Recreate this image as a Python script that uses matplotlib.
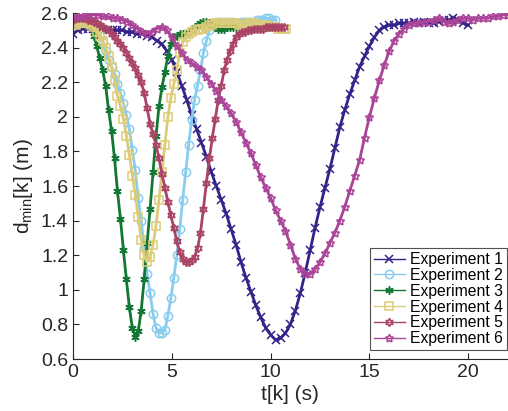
import numpy as np
import matplotlib
matplotlib.use("Agg")
import matplotlib.pyplot as plt
from matplotlib.ticker import FormatStrFormatter

plt.rcParams['font.family'] = ['Liberation Sans', 'DejaVu Sans']
plt.rcParams['mathtext.fontset'] = 'custom'
plt.rcParams['mathtext.rm'] = 'Liberation Sans'

# sample period of each log (s)
dt1 = 0.25
dt2 = 0.15
dt3 = 0.15
dt4 = 0.15
dt5 = 0.15
dt6 = 0.25

# minimum distance d_min[k] (m)
d1 = [2.48, 2.50, 2.51, 2.51, 2.51, 2.51, 2.50, 2.50, 2.50, 2.50,
      2.50, 2.49, 2.49, 2.48, 2.48, 2.47, 2.46, 2.44, 2.42, 2.38,
      2.33, 2.26, 2.18, 2.10, 2.01, 1.93, 1.85, 1.77, 1.68, 1.60,
      1.52, 1.44, 1.35, 1.26, 1.16, 1.07, 0.99, 0.91, 0.84, 0.78,
      0.74, 0.71, 0.72, 0.75, 0.80, 0.88, 0.98, 1.10, 1.23, 1.36,
      1.48, 1.59, 1.70, 1.82, 1.94, 2.04, 2.13, 2.21, 2.29, 2.35,
      2.41, 2.46, 2.50, 2.52, 2.53, 2.53, 2.54, 2.54, 2.54, 2.55,
      2.54, 2.55, 2.54, 2.54, 2.55, 2.56, 2.56, 2.57, 2.56, 2.54,
      2.53]

d2 = [2.55, 2.55, 2.55, 2.55, 2.54, 2.54, 2.53, 2.52, 2.50, 2.47,
      2.43, 2.38, 2.33, 2.29, 2.25, 2.19, 2.14, 2.08, 2.01, 1.93,
      1.81, 1.69, 1.53, 1.40, 1.24, 1.09, 0.98, 0.86, 0.78, 0.75,
      0.75, 0.77, 0.85, 0.95, 1.07, 1.20, 1.35, 1.52, 1.68, 1.84,
      1.98, 2.10, 2.18, 2.27, 2.37, 2.44, 2.50, 2.53, 2.54, 2.55,
      2.55, 2.55, 2.55, 2.55, 2.55, 2.54, 2.54, 2.55, 2.55, 2.55,
      2.55, 2.55, 2.56, 2.56, 2.56, 2.57, 2.57, 2.56, 2.56]

d3 = [2.55, 2.56, 2.56, 2.56, 2.56, 2.55, 2.52, 2.47, 2.41, 2.34,
      2.27, 2.18, 2.04, 1.92, 1.76, 1.57, 1.41, 1.23, 1.06, 0.90,
      0.78, 0.73, 0.76, 0.88, 1.06, 1.27, 1.47, 1.68, 1.89, 2.06,
      2.17, 2.26, 2.35, 2.42, 2.46, 2.47, 2.48, 2.48, 2.48, 2.49,
      2.50, 2.52, 2.53, 2.54, 2.55, 2.55, 2.54, 2.53, 2.52, 2.51,
      2.51, 2.51, 2.52, 2.52, 2.52, 2.52]

d4 = [2.53, 2.53, 2.54, 2.54, 2.54, 2.54, 2.53, 2.52, 2.49, 2.47,
      2.44, 2.40, 2.35, 2.29, 2.21, 2.12, 2.06, 1.99, 1.89, 1.78,
      1.66, 1.55, 1.42, 1.29, 1.20, 1.16, 1.19, 1.26, 1.37, 1.52,
      1.68, 1.84, 2.00, 2.11, 2.19, 2.27, 2.37, 2.43, 2.46, 2.48,
      2.49, 2.50, 2.50, 2.51, 2.51, 2.52, 2.53, 2.53, 2.54, 2.54,
      2.54, 2.54, 2.54, 2.54, 2.54, 2.54, 2.53, 2.53, 2.53, 2.54,
      2.54, 2.54, 2.53, 2.53, 2.53, 2.53, 2.52, 2.52, 2.52, 2.51,
      2.51, 2.51, 2.51]

d5 = [2.56, 2.57, 2.57, 2.57, 2.57, 2.56, 2.56, 2.55, 2.54, 2.53,
      2.52, 2.51, 2.50, 2.48, 2.46, 2.44, 2.42, 2.40, 2.37, 2.34,
      2.31, 2.28, 2.24, 2.20, 2.14, 2.05, 1.96, 1.90, 1.84, 1.76,
      1.67, 1.59, 1.51, 1.43, 1.36, 1.28, 1.22, 1.18, 1.16, 1.16,
      1.17, 1.19, 1.24, 1.33, 1.47, 1.62, 1.76, 1.88, 1.99, 2.10,
      2.18, 2.27, 2.33, 2.38, 2.42, 2.46, 2.48, 2.49, 2.49, 2.50,
      2.50, 2.51, 2.51, 2.51, 2.51, 2.52, 2.52, 2.52, 2.52, 2.52,
      2.52, 2.52]

d6 = [2.57, 2.58, 2.58, 2.59, 2.59, 2.59, 2.58, 2.58, 2.57, 2.57,
      2.56, 2.55, 2.53, 2.51, 2.49, 2.48, 2.49, 2.51, 2.52, 2.50,
      2.46, 2.41, 2.37, 2.33, 2.31, 2.29, 2.27, 2.23, 2.19, 2.15,
      2.10, 2.06, 2.02, 1.97, 1.91, 1.85, 1.79, 1.72, 1.65, 1.59,
      1.53, 1.46, 1.40, 1.34, 1.26, 1.18, 1.12, 1.09, 1.09, 1.12,
      1.16, 1.21, 1.27, 1.33, 1.40, 1.48, 1.57, 1.66, 1.75, 1.88,
      2.00, 2.11, 2.21, 2.30, 2.38, 2.44, 2.48, 2.51, 2.53, 2.54,
      2.54, 2.55, 2.55, 2.56, 2.57, 2.55, 2.54, 2.55, 2.56, 2.57,
      2.57, 2.56, 2.57, 2.57, 2.57, 2.58, 2.58, 2.59, 2.59]

labels = ['Experiment 1', 'Experiment 2', 'Experiment 3',
          'Experiment 4', 'Experiment 5', 'Experiment 6']
colors = ['#332288', '#88CCEE', '#117733', '#DDCC77', '#AA4466', '#AA4499']
markers = ['x', 'o', (6, 2, 0), 's', (6, 1, 0), (5, 1, 0)]

series = [(dt1, d1), (dt2, d2), (dt3, d3), (dt4, d4), (dt5, d5), (dt6, d6)]

fig = plt.figure(figsize=(5.08, 4.11), dpi=100)
ax = fig.add_axes([0.1437, 0.1265, 0.856, 0.8418])

for (dt, d), lab, c, m in zip(series, labels, colors, markers):
    t = np.arange(len(d)) * dt
    ax.plot(t, d, color=c, marker=m, markersize=6, markeredgewidth=1.1,
            markerfacecolor='none', linewidth=2.0, label=lab)

ax.set_xlim(0, 22)
ax.set_ylim(0.6, 2.6)
ax.set_xticks([0, 5, 10, 15, 20])
ax.set_yticks(np.arange(0.6, 2.61, 0.2))
ax.yaxis.set_major_formatter(FormatStrFormatter('%g'))
ax.tick_params(direction='in', length=4, labelsize=14, colors='#262626')
ax.spines['top'].set_visible(False)
ax.spines['right'].set_visible(False)
for s in ['left', 'bottom']:
    ax.spines[s].set_color('#262626')

ax.set_xlabel('t[k] (s)', fontsize=15, color='#262626', labelpad=3)
ax.set_ylabel(r'd$_{\mathregular{min}}$[k] (m)', fontsize=15, color='#262626',
              labelpad=4)

leg = ax.legend(loc='lower right', bbox_to_anchor=(0.997, 0.026),
                borderaxespad=0, fontsize=11.3, fancybox=False,
                edgecolor='#262626', handlelength=2.0, handletextpad=0.3,
                labelspacing=0.05, borderpad=0.25)
leg.get_frame().set_linewidth(0.8)
for h in leg.get_lines():
    h.set_linewidth(1.0)

fig.savefig('out.png', dpi=100)
